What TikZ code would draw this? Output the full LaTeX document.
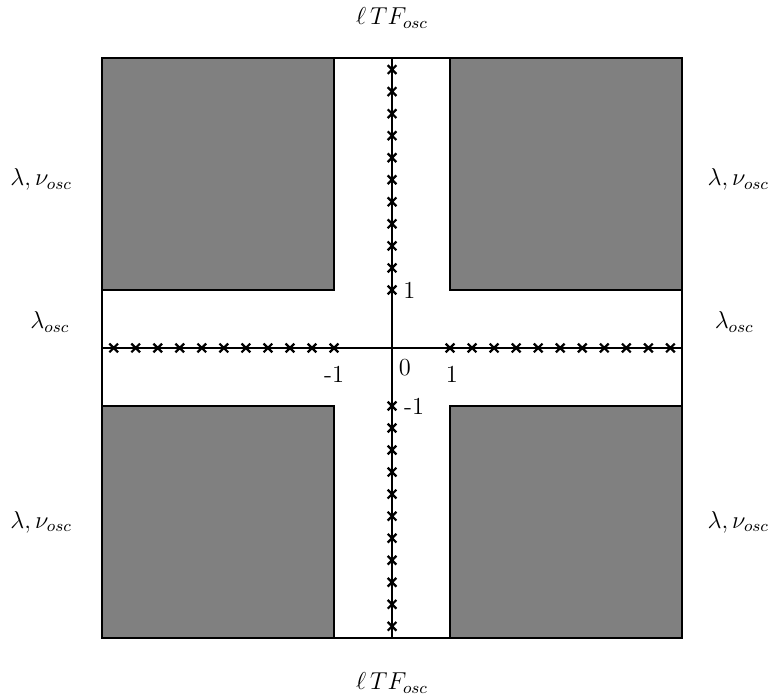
\documentclass[tikz,border=0pt]{standalone}
\begin{document}
\begin{tikzpicture}[x=1cm,y=1cm,
  block/.style={fill=black!50,draw=black,line width=1.1pt},
  axisline/.style={line width=1.1pt},
  lbl/.style={font=\fontsize{12}{14}\selectfont,inner sep=1pt},
  crs/.style={line width=1.1pt}]
\useasboundingbox (-6.76,-6.07) rectangle (6.655,6.0);
% blocks
\fill[white] (-5,-5) rectangle (5,5);
\draw[block] (-5,1) rectangle (-1,5);
\draw[block] (1,1) rectangle (5,5);
\draw[block] (-5,-5) rectangle (-1,-1);
\draw[block] (1,-5) rectangle (5,-1);
\draw[line width=1.1pt] (-5,-5) rectangle (5,5);
% axes
\coordinate (W) at (-5,0); \coordinate (E) at (5,0);
\coordinate (N) at (0,5); \coordinate (S) at (0,-5);
\draw[axisline] (W) -- (E);
\draw[axisline] (S) -- (N);
% crosses
\foreach \k in {0,...,10}{
  \pgfmathsetmacro{\p}{1+0.38*\k}
  \foreach \q in {\p,-\p}{
    \draw[crs] (\q-0.075,-0.075) -- (\q+0.075,0.075) (\q-0.075,0.075) -- (\q+0.075,-0.075);
    \draw[crs] (-0.075,\q-0.075) -- (0.075,\q+0.075) (-0.075,\q+0.075) -- (0.075,\q-0.075);
  }
}
% tick labels
\node[lbl] (z) at (0.22,-0.34) {0};
\node[lbl] (hp) at (1.03,-0.45) {1};
\node[lbl] (hm) at (-1.0,-0.45) {-1};
\node[lbl] (vp) at (0.3,1.0) {1};
\node[lbl] (vm) at (0.38,-1.0) {-1};
% region labels
\node[lbl] (top) at (0,5.69) {$\ell\,TF_{osc}$};
\node[lbl] (bot) at (0,-5.78) {$\ell\,TF_{osc}$};
\node[lbl] (tl) at (-6.05,2.9) {$\lambda,\nu_{osc}$};
\node[lbl] (tr) at (5.97,2.9) {$\lambda,\nu_{osc}$};
\node[lbl] (bl) at (-6.05,-3.0) {$\lambda,\nu_{osc}$};
\node[lbl] (br) at (5.97,-3.0) {$\lambda,\nu_{osc}$};
\node[lbl] (ml) at (-5.9,0.45) {$\lambda_{osc}$};
\node[lbl] (mr) at (5.9,0.45) {$\lambda_{osc}$};
\end{tikzpicture}
\end{document}
